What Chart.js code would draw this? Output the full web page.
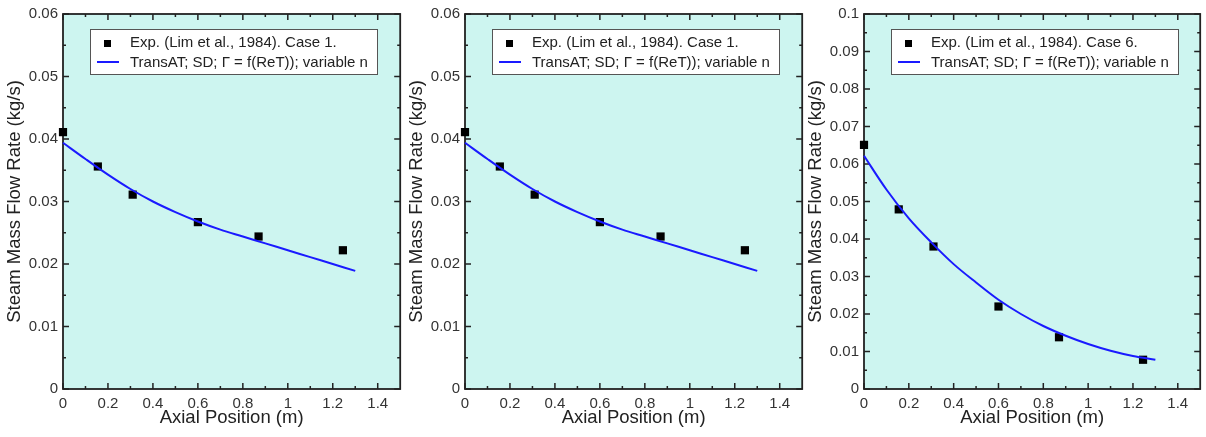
<!DOCTYPE html>
<html>
<head>
<meta charset="utf-8">
<script src="https://cdn.jsdelivr.net/npm/chart.js@4.4.1/dist/chart.umd.min.js"></script>
<style>
  body { margin: 0; background: #fff; width: 1206px; height: 437px; overflow: hidden; position: relative; }
  .panel { position: absolute; top: 0; height: 437px; }
</style>
</head>
<body>
<div class="panel" style="left:0px;width:406px"><canvas id="chart1"></canvas></div>
<div class="panel" style="left:402px;width:406px"><canvas id="chart2"></canvas></div>
<div class="panel" style="left:801px;width:405px"><canvas id="chart3"></canvas></div>
<script>
Chart.defaults.font.family = "'Liberation Sans', Arial, Helvetica, sans-serif";
Chart.defaults.color = '#333';

// experiment (Lim et al., 1984)
const expX = [0, 0.155, 0.31, 0.6, 0.87, 1.245];
const expCase1 = [0.0411, 0.0356, 0.0311, 0.0267, 0.0244, 0.0222];
const expCase6 = [0.0651, 0.0479, 0.0380, 0.0220, 0.0138, 0.0078];

// TransAT simulation
const simX = [0, 0.1, 0.2, 0.3, 0.4, 0.5, 0.6, 0.7, 0.8, 0.9, 1.0, 1.1, 1.2, 1.3];
const simCase1 = [0.0394, 0.0368, 0.0343, 0.0320, 0.0300, 0.0283, 0.0268, 0.0255, 0.0244, 0.0233, 0.0222, 0.0211, 0.0200, 0.0189];
const simCase6 = [0.0622, 0.0532, 0.0455, 0.0391, 0.0333, 0.0284, 0.0238, 0.0200, 0.0168, 0.0142, 0.0120, 0.0102, 0.0088, 0.0078];

// ticks
const xTicks = [0, 0.2, 0.4, 0.6, 0.8, 1.0, 1.2, 1.4];
const yTicksSmall = [0, 0.01, 0.02, 0.03, 0.04, 0.05, 0.06];
const yTicksBig = [0, 0.01, 0.02, 0.03, 0.04, 0.05, 0.06, 0.07, 0.08, 0.09, 0.1];

const simLabel = 'TransAT; SD; \u0393 = f(ReT)); variable n';

const pts = (xs, ys) => xs.map((x, i) => ({x: x, y: ys[i]}));
const minors = arr => arr.slice(0, -1).map((v, i) => (v + arr[i + 1]) / 2);

// background, frame and inward ticks on all four sides
const framePlugin = {
  id: 'frame',
  beforeDraw(chart) {
    const a = chart.chartArea, ctx = chart.ctx;
    ctx.save();
    ctx.fillStyle = '#cdf5f0';
    ctx.fillRect(a.left, a.top, a.right - a.left, a.bottom - a.top);
    ctx.restore();
  },
  beforeDatasetsDraw(chart) {
    const a = chart.chartArea, ctx = chart.ctx;
    const xs = chart.scales.x, ys = chart.scales.y;
    const yt = chart.options.plugins.frame.yTicks;
    const xMinor = minors(xTicks);
    ctx.save();
    ctx.strokeStyle = '#222';
    ctx.lineWidth = 1.5;
    ctx.beginPath();
    const tick = (v, len, horiz) => {
      if (horiz) {
        const p = xs.getPixelForValue(v);
        ctx.moveTo(p, a.bottom); ctx.lineTo(p, a.bottom - len);
        ctx.moveTo(p, a.top); ctx.lineTo(p, a.top + len);
      } else {
        const p = ys.getPixelForValue(v);
        ctx.moveTo(a.left, p); ctx.lineTo(a.left + len, p);
        ctx.moveTo(a.right, p); ctx.lineTo(a.right - len, p);
      }
    };
    xTicks.forEach(v => tick(v, 6, true));
    xMinor.forEach(v => tick(v, 3, true));
    yt.forEach(v => tick(v, 6, false));
    minors(yt).forEach(v => tick(v, 3, false));
    ctx.stroke();
    ctx.lineWidth = 1.8;
    ctx.strokeRect(a.left, a.top, a.right - a.left, a.bottom - a.top);
    ctx.restore();
  },
  afterDatasetsDraw(chart) {
    // legend box inside the plot
    const a = chart.chartArea, ctx = chart.ctx;
    const bx = a.left + 27, by = a.top + 15, bw = 287, bh = 45;
    ctx.save();
    ctx.fillStyle = '#fff';
    ctx.fillRect(bx, by, bw, bh);
    ctx.strokeStyle = '#555';
    ctx.lineWidth = 1;
    ctx.strokeRect(bx + 0.5, by + 0.5, bw, bh);
    ctx.font = "15px 'Liberation Sans', Arial, sans-serif";
    ctx.textBaseline = 'middle';
    const ds = chart.data.datasets;
    // row 1: marker
    ctx.fillStyle = '#000';
    ctx.fillRect(bx + 14, by + 11, 7, 7);
    ctx.fillStyle = '#222';
    ctx.fillText(ds[0].label, bx + 40, by + 14);
    // row 2: line
    ctx.strokeStyle = '#1a1aff';
    ctx.lineWidth = 2;
    ctx.beginPath();
    ctx.moveTo(bx + 7, by + 33); ctx.lineTo(bx + 29, by + 33);
    ctx.stroke();
    ctx.fillText(ds[1].label, bx + 40, by + 34);
    ctx.restore();
  }
};

function makeChart(id, expLabel, expY, simY, yMax, yTicks) {
  return new Chart(document.getElementById(id), {
    type: 'scatter',
    data: {
      datasets: [{
        label: expLabel,
        data: pts(expX, expY),
        pointStyle: 'rect',
        pointRadius: 5.8,
        backgroundColor: '#000',
        borderColor: '#000',
        borderWidth: 0,
        clip: false,
        order: 1
      }, {
        label: simLabel,
        data: pts(simX, simY),
        showLine: true,
        pointRadius: 0,
        borderColor: '#1a1aff',
        borderWidth: 2,
        tension: 0.35,
        clip: false,
        order: 0
      }]
    },
    options: {
      responsive: true,
      maintainAspectRatio: false,
      animation: false,
      layout: { padding: { top: 13, left: 0, right: 0, bottom: 0 } },
      plugins: {
        legend: { display: false },
        tooltip: { enabled: false },
        frame: { yTicks: yTicks }
      },
      scales: {
        x: {
          type: 'linear',
          min: 0,
          max: 1.5,
          grid: { display: false, drawTicks: false },
          border: { display: false },
          ticks: {
            stepSize: 0.2,
            includeBounds: false,
            padding: 6,
            font: { size: 15 },
            color: '#333',
            callback: v => String(parseFloat(v.toFixed(2)))
          },
          title: {
            display: true,
            text: 'Axial Position (m)',
            font: { size: 18.5 },
            color: '#222',
            padding: { top: 0, bottom: 8 }
          },
          afterFit: s => { s.height = 48; }
        },
        y: {
          type: 'linear',
          min: 0,
          max: yMax,
          grid: { display: false, drawTicks: false },
          border: { display: false },
          ticks: {
            stepSize: 0.01,
            padding: 5,
            font: { size: 15 },
            color: '#333',
            callback: v => String(parseFloat(v.toFixed(3)))
          },
          title: {
            display: true,
            text: 'Steam Mass Flow Rate (kg/s)',
            font: { size: 18.5 },
            color: '#222',
            padding: { top: 4, bottom: 0 }
          },
          afterFit: s => { s.width = 63; }
        }
      }
    },
    plugins: [framePlugin]
  });
}

makeChart('chart1', 'Exp. (Lim et al., 1984). Case 1.', expCase1, simCase1, 0.06, yTicksSmall);
makeChart('chart2', 'Exp. (Lim et al., 1984). Case 1.', expCase1, simCase1, 0.06, yTicksSmall);
makeChart('chart3', 'Exp. (Lim et al., 1984). Case 6.', expCase6, simCase6, 0.1, yTicksBig);
</script>
</body>
</html>
